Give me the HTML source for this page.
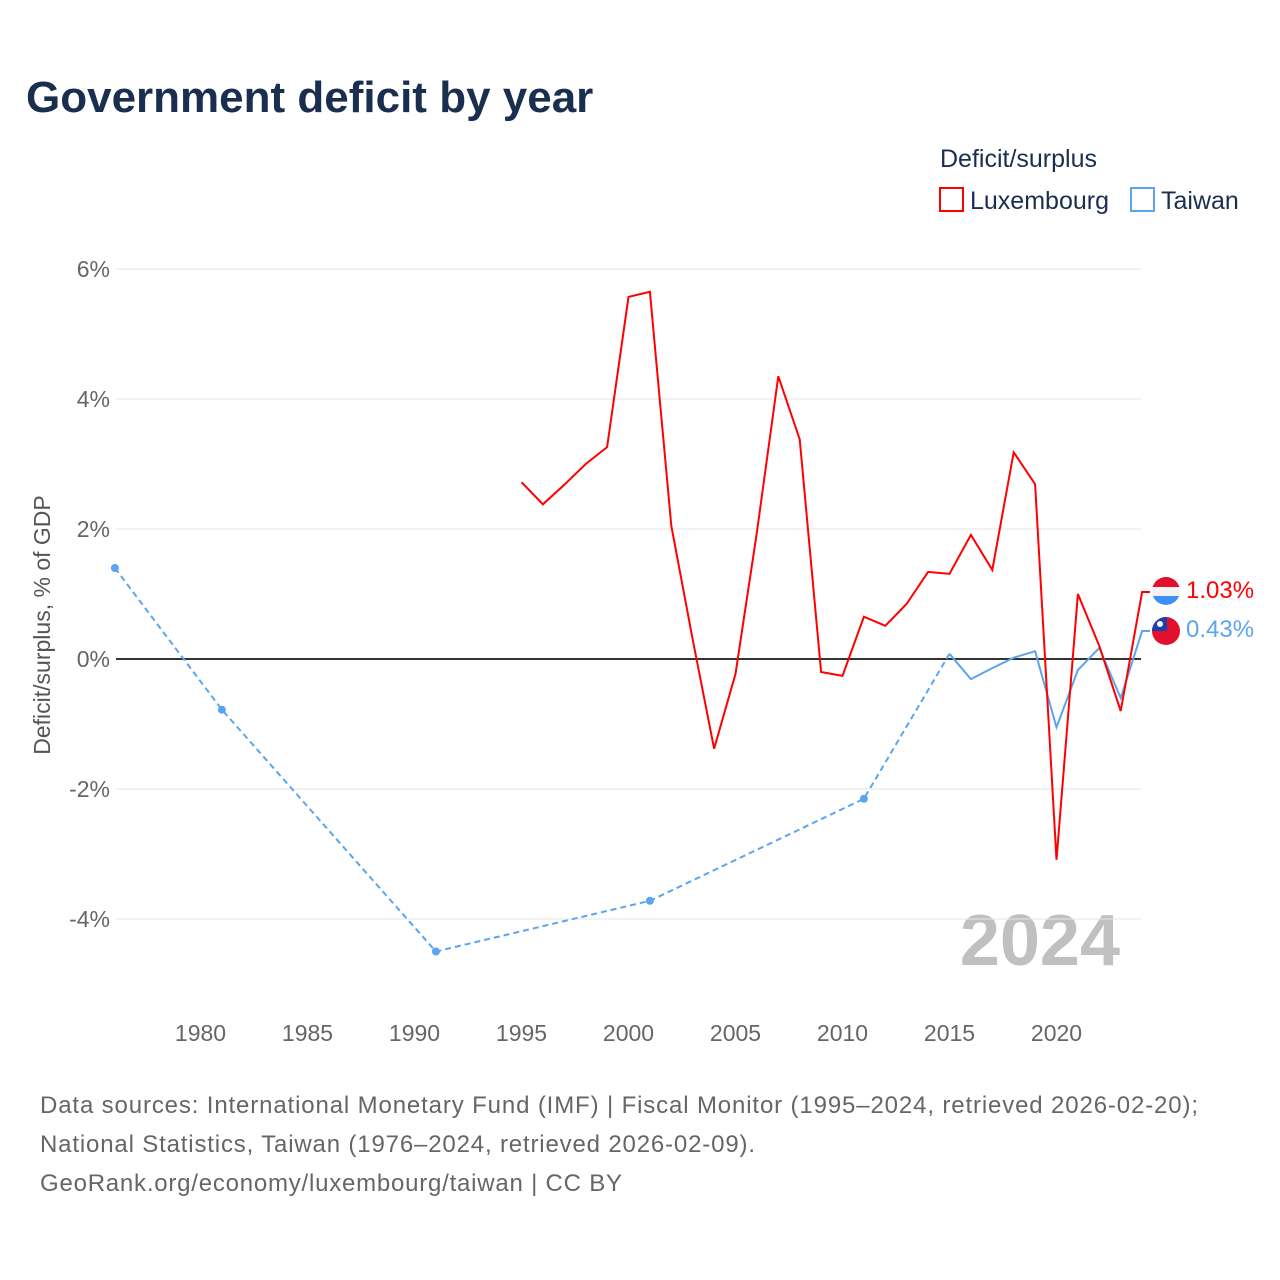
<!DOCTYPE html>
<html><head><meta charset="utf-8"><style>
body{margin:0;width:1280px;height:1280px;background:#fff;font-family:"Liberation Sans",sans-serif;overflow:hidden}
svg{position:absolute;left:0;top:0}
</style></head><body>
<svg id="c" width="1280" height="1280">
<text x="26" y="112" font-size="44" font-weight="bold" fill="#1a2e4f">Government deficit by year</text>
<text x="940" y="167" font-size="25" fill="#1a2e4f">Deficit/surplus</text>
<g><rect x="940" y="188" width="23" height="23" fill="none" stroke="#f00" stroke-width="2"/><text x="970" y="209" font-size="25" fill="#1a2e4f">Luxembourg</text></g>
<g><rect x="1131" y="188" width="23" height="23" fill="none" stroke="#5aa5ee" stroke-width="2"/><text x="1161" y="209" font-size="25" fill="#1a2e4f">Taiwan</text></g>
<text transform="translate(50,625) rotate(-90)" text-anchor="middle" font-size="23" fill="#555">Deficit/surplus, % of GDP</text>
<text x="1120" y="965" text-anchor="end" font-size="72" font-weight="bold" fill="#c0c0c0">2024</text>
<g id="grid"></g><g id="marks"></g>
<text x="40" y="1113" font-size="24" fill="#666" textLength="1158">Data sources: International Monetary Fund (IMF) | Fiscal Monitor (1995–2024, retrieved 2026-02-20);</text>
<text x="40" y="1152" font-size="24" fill="#666" textLength="715">National Statistics, Taiwan (1976–2024, retrieved 2026-02-09).</text>
<text x="40" y="1191" font-size="24" fill="#666" textLength="582">GeoRank.org/economy/luxembourg/taiwan | CC BY</text>
</svg>
<script>
const yTicks=[6,4,2,0,-2,-4];
const xTicks=[1980,1985,1990,1995,2000,2005,2010,2015,2020];
const luxYears=[1995,1996,1997,1998,1999,2000,2001,2002,2003,2004,2005,2006,2007,2008,2009,2010,2011,2012,2013,2014,2015,2016,2017,2018,2019,2020,2021,2022,2023,2024];
const luxValues=[2.72,2.38,2.68,3.0,3.26,5.57,5.65,2.05,0.3,-1.38,-0.23,1.95,4.35,3.38,-0.2,-0.26,0.65,0.51,0.85,1.34,1.31,1.91,1.37,3.18,2.69,-3.09,1.0,0.2,-0.8,1.03];
const twSparseYears=[1976,1981,1991,2001,2011,2015];
const twSparseValues=[1.4,-0.78,-4.5,-3.72,-2.15,0.08];
const twYears=[2015,2016,2017,2018,2019,2020,2021,2022,2023,2024];
const twValues=[0.08,-0.31,-0.14,0.02,0.12,-1.05,-0.17,0.17,-0.6,0.43];
const X=y=>200.5+(y-1980)*21.4, Y=v=>659-v*65;
const NS="http://www.w3.org/2000/svg";
function mk(t,a,p){const e=document.createElementNS(NS,t);for(const k in a)e.setAttribute(k,a[k]);p.appendChild(e);return e;}
const g=document.getElementById('grid'),m=document.getElementById('marks');
yTicks.forEach(v=>{const l=mk('line',{x1:116,x2:1141,y1:Y(v),y2:Y(v),stroke:v===0?'#333':'#e6e6e6','stroke-width':v===0?2:1},g);


const t=mk('text',{x:110,y:Y(v)+8,'text-anchor':'end','font-size':23,fill:'#666'},g);t.textContent=v+'%';

});
xTicks.forEach(v=>{const t=mk('text',{x:X(v),y:1041,'text-anchor':'middle','font-size':23,fill:'#666'},g);t.textContent=v;

});
const pts=(ys,vs)=>ys.map((y,i)=>X(y)+','+Y(vs[i])).join(' ');
const ds=mk('polyline',{points:pts(twSparseYears,twSparseValues),fill:'none',stroke:'#5aa5ee','stroke-width':2,'stroke-dasharray':'6,4'},m);


twSparseYears.slice(0,-1).forEach((y,i)=>{const c=mk('circle',{cx:X(y),cy:Y(twSparseValues[i]),r:4,fill:'#5aa5ee'},m);

});
const tw=mk('polyline',{points:pts(twYears,twValues)+' 1150,'+Y(twValues[twValues.length-1]),fill:'none',stroke:'#5aa5ee','stroke-width':2},m);


const lx=mk('polyline',{points:pts(luxYears,luxValues)+' 1150,'+Y(luxValues[luxValues.length-1]),fill:'none',stroke:'#f00','stroke-width':2},m);


const lv=luxValues[luxValues.length-1],tv=twValues[twValues.length-1];
const ll=mk('text',{x:1186,y:598,'font-size':24,fill:'#f00'},m);ll.textContent=lv.toFixed(2)+'%';


const tl=mk('text',{x:1186,y:637,'font-size':24,fill:'#5aa5ee'},m);tl.textContent=tv.toFixed(2)+'%';


m.insertAdjacentHTML('beforeend',`
<g><clipPath id="cl"><circle cx="1166" cy="591" r="14"/></clipPath><g clip-path="url(#cl)"><rect x="1152" y="577" width="28" height="10" fill="#e0102e"/><rect x="1152" y="587" width="28" height="9" fill="#f2f2f2"/><rect x="1152" y="596" width="28" height="10" fill="#3d8ef5"/></g></g>
<g><clipPath id="ct"><circle cx="1166" cy="631" r="14"/></clipPath><g clip-path="url(#ct)"><rect x="1152" y="617" width="28" height="28" fill="#e0102e"/><rect x="1152" y="617" width="15" height="14" fill="#1f3fa8"/><circle cx="1160" cy="624" r="3" fill="#fff"/></g></g>`);
</script>
</body></html>
